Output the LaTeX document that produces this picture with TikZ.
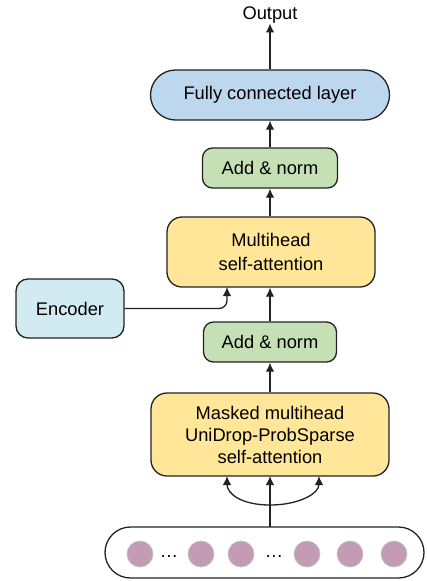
\documentclass[tikz,border=0pt]{standalone}
\usepackage{fontspec}
\setmainfont{Liberation Sans}
\usetikzlibrary{arrows.meta}
\definecolor{fcblue}{HTML}{BDD7EE}
\definecolor{normgreen}{HTML}{C5E0B4}
\definecolor{attyellow}{HTML}{FFE699}
\definecolor{encblue}{HTML}{D2EAF1}
\definecolor{tokpink}{HTML}{C39BB4}
\definecolor{tokedge}{HTML}{C4C4C4}
\definecolor{linecol}{HTML}{222222}
\begin{document}
\begin{tikzpicture}[x=1pt,y=-1pt,
  every node/.style={font=\fontsize{18.3}{22}\selectfont, inner sep=0pt},
  blk/.style={draw=linecol, line width=1.3pt, align=center},
  arr/.style={draw=linecol, line width=1.3pt, -{Latex[length=9pt,width=8.5pt]}},
  tok/.style={circle, fill=tokpink, draw=tokedge, line width=0.8pt, minimum size=26pt}]
\useasboundingbox (0,0) rectangle (427,581);
\node (out) at (270,15) {Output};
\node[blk, fill=fcblue, rounded corners=25pt, minimum width=239pt, minimum height=50pt] (fc) at (270,95) {Fully connected layer};
\node[blk, fill=normgreen, rounded corners=10pt, minimum width=135pt, minimum height=40pt] (an1) at (270,168) {Add \& norm};
\node[blk, fill=attyellow, rounded corners=15pt, minimum width=208pt, minimum height=70pt, font=\fontsize{18.3}{24}\selectfont] (mh) at (271,252) {Multihead\\self-attention};
\node[blk, fill=encblue, rounded corners=12pt, minimum width=108pt, minimum height=59pt] (enc) at (70,308.5) {Encoder};
\node[blk, fill=normgreen, rounded corners=10pt, minimum width=133pt, minimum height=40pt] (an2) at (270,342) {Add \& norm};
\node[blk, fill=attyellow, rounded corners=16pt, minimum width=238pt, minimum height=83pt, font=\fontsize{18.3}{22}\selectfont] (mk) at (270,434.5) {Masked multihead\\UniDrop-ProbSparse\\self-attention};
\node[blk, rounded corners=25.5pt, minimum width=319pt, minimum height=51pt] (inp) at (264.5,552.5) {};
\foreach \n/\x in {t1/140,t2/201,t3/241,t4/307,t5/350,t6/394}
  \node[tok] (\n) at (\x,554) {};
\node[anchor=base] (d1) at (169,557) {…};
\node[anchor=base] (d2) at (274,557) {…};
% connectors
\draw[arr] (fc.north) -- (out.south);
\draw[arr] (an1.north) -- (fc.south);
\draw[arr] (an1.north |- mh.north) -- (an1.south);
\draw[arr] (an2.north) -- (an2.north |- mh.south);
\draw[arr] (mk.north) -- (an2.south);
\coordinate (encin) at (227,287);
\draw[arr, rounded corners=8pt] (enc.east) -| (encin);
\coordinate (inptop) at (270,527);
\coordinate (split) at (270,505);
\coordinate (mkl) at (227,476);
\coordinate (mkm) at (270,476);
\coordinate (mkr) at (319,476);
\draw[arr] (inptop) -- (mkm);
\draw[arr] (split) .. controls (242,505) and (227,494) .. (mkl);
\draw[arr] (split) .. controls (298,505) and (319,494) .. (mkr);
\end{tikzpicture}
\end{document}
